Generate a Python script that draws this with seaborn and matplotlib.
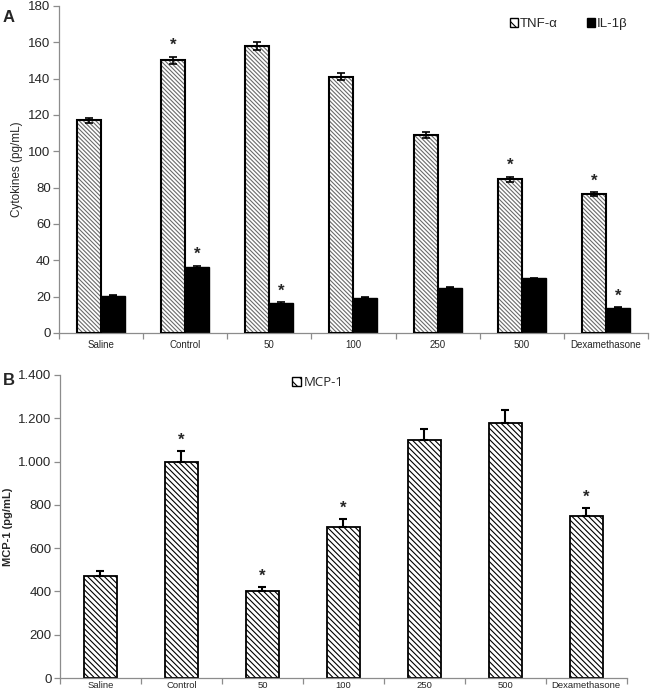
import numpy as np
import pandas as pd
import matplotlib
matplotlib.use("Agg")
import matplotlib.pyplot as plt
import seaborn as sns
from matplotlib.patches import Patch, Rectangle
from matplotlib.ticker import FuncFormatter, FixedLocator

groups = ["Saline", "Control", "50", "100", "250", "500", "Dexamethasone"]

# panel A
tnf = [117, 150, 158, 141, 109, 84.5, 76.5]
tnf_err = [1.5, 2.0, 2.0, 2.0, 1.5, 1.5, 1.0]
il1b = [20.5, 36.5, 16.5, 19.5, 25, 30, 14]
il1b_err = [0.4, 0.6, 0.4, 0.4, 0.4, 0.4, 0.3]
tnf_star = [False, True, False, False, False, True, True]
il1b_star = [False, True, True, False, False, False, True]

# panel B
mcp1 = [470, 1000, 400, 700, 1100, 1180, 750]
mcp1_err = [23, 50, 20, 35, 50, 57, 35]
mcp1_star = [False, True, True, True, False, False, True]

sns.set_theme(style="white")
plt.rcParams['font.family'] = ['Liberation Sans', 'DejaVu Sans']
plt.rcParams['hatch.linewidth'] = 0.8

fig = plt.figure(figsize=(6.5, 6.94), dpi=100)
axA = fig.add_axes([0.0908, 0.5202, 0.906, 0.4712])
axB = fig.add_axes([0.0923, 0.0230, 0.872, 0.4367])

df_a = pd.DataFrame({
    'group': groups * 2,
    'value': tnf + il1b,
    'cytokine': ['TNF-α'] * 7 + ['IL-1β'] * 7,
})
sns.barplot(data=df_a, x='group', y='value', hue='cytokine', order=groups,
            palette=['white', 'black'], width=0.57, gap=0, errorbar=None,
            legend=False, ax=axA)

tnf_bars = axA.containers[0]
il_bars = axA.containers[1]
for p in tnf_bars:
    p.set_facecolor('white')
    p.set_edgecolor('#6a6a6a')
    p.set_linewidth(0)
    p.set_hatch('\\' * 8)
    axA.add_patch(Rectangle(p.get_xy(), p.get_width(), p.get_height(),
                            fill=False, edgecolor='black', lw=1.5, zorder=3))
for p in il_bars:
    p.set_facecolor('black')
    p.set_edgecolor('black')
    p.set_linewidth(1.0)

for bars, vals, errs, stars in [(tnf_bars, tnf, tnf_err, tnf_star),
                                (il_bars, il1b, il1b_err, il1b_star)]:
    xs = [p.get_x() + p.get_width() / 2 for p in bars]
    axA.errorbar(xs, vals, yerr=errs, fmt='none', ecolor='black',
                 elinewidth=1.2, capsize=3, capthick=1.2, zorder=4)
    for x, v, e, s in zip(xs, vals, errs, stars):
        if s:
            axA.text(x, v + e + 2, '*', ha='center', va='bottom',
                     fontsize=12, fontweight='bold')

axA.set_ylim(0, 180)
axA.set_xlim(-0.5, 6.5)
axA.set_yticks(np.arange(0, 181, 20))
axA.set_ylabel('Cytokines (pg/mL)', fontsize=8.5, labelpad=4)
axA.set_xlabel('')
handlesA = [Patch(facecolor='white', edgecolor='black', hatch='\\\\\\', lw=1, label='TNF-α'),
            Patch(facecolor='black', edgecolor='black', label='IL-1β')]
axA.legend(handles=handlesA, loc='upper right', bbox_to_anchor=(0.985, 1.0),
           ncol=2, frameon=False, fontsize=9.5, handlelength=0.65, handleheight=0.65,
           handletextpad=0.1, columnspacing=2.2)

df_b = pd.DataFrame({'group': groups, 'value': mcp1})
sns.barplot(data=df_b, x='group', y='value', order=groups, color='white',
            width=0.41, errorbar=None, ax=axB)
mcp_bars = axB.containers[0]
for p in mcp_bars:
    p.set_facecolor('white')
    p.set_edgecolor('black')
    p.set_linewidth(1.3)
    p.set_hatch('\\' * 6)
xs = [p.get_x() + p.get_width() / 2 for p in mcp_bars]
axB.errorbar(xs, mcp1, yerr=[np.zeros(len(mcp1)), mcp1_err], fmt='none',
             ecolor='black', elinewidth=1.5, capsize=3, capthick=1.5, zorder=4)
for x, v, e, s in zip(xs, mcp1, mcp1_err, mcp1_star):
    if s:
        axB.text(x, v + e + 15, '*', ha='center', va='bottom',
                 fontsize=12, fontweight='bold')

axB.set_ylim(0, 1400)
axB.set_xlim(-0.5, 6.5)
axB.set_yticks(np.arange(0, 1401, 200))
axB.yaxis.set_major_formatter(FuncFormatter(lambda v, _: f"{int(v):,}".replace(',', '.')))
axB.set_ylabel('MCP-1 (pg/mL)', fontsize=8, fontweight='bold', labelpad=4)
axB.set_xlabel('')
handlesB = [Patch(facecolor='white', edgecolor='black', hatch='\\\\\\', lw=1, label='MCP-1')]
axB.legend(handles=handlesB, loc='upper left', bbox_to_anchor=(0.388, 1.035),
           frameon=False, handlelength=0.7, handleheight=0.7,
           handletextpad=0.2, prop={'family': ['Open Sans', 'DejaVu Sans'], 'size': 9.5})

for ax in (axA, axB):
    sns.despine(ax=ax)
    for side in ('left', 'bottom'):
        ax.spines[side].set_color('#8c8c8c')
        ax.spines[side].set_linewidth(0.9)
    ax.tick_params(axis='y', which='major', direction='out', length=4, width=0.9,
                   color='#8c8c8c', labelsize=9.5, pad=2, left=True)
    ax.xaxis.set_minor_locator(FixedLocator(np.arange(-0.5, 7, 1.0)))
    ax.tick_params(axis='x', which='minor', direction='out', length=4, width=0.9,
                   color='#8c8c8c', bottom=True)
axA.tick_params(axis='x', which='major', length=0, labelsize=7, pad=5)
axB.tick_params(axis='x', which='major', length=0, labelsize=6.8, pad=2)

fig.text(0.004, 0.985, 'A', fontsize=12, fontweight='bold', va='top')
fig.text(0.004, 0.463, 'B', fontsize=12, fontweight='bold', va='top')

fig.savefig('out.png', dpi=100)
